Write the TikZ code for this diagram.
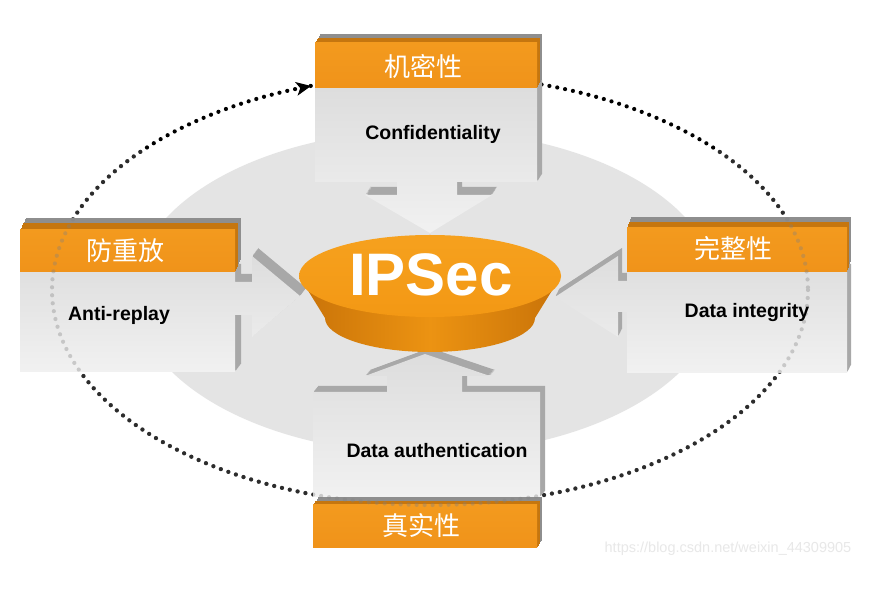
\documentclass[tikz,border=0pt]{standalone}
\usepackage{fontspec}
\setmainfont{Liberation Sans}
\newfontfamily\cjk{Noto Sans CJK SC}
\usetikzlibrary{calc}
\definecolor{bgell}{HTML}{E4E4E4}
\definecolor{orA}{HTML}{F39A1E}
\definecolor{orC}{HTML}{F8B352}
\definecolor{orB}{HTML}{F0931A}
\definecolor{orSide}{HTML}{C5760F}
\definecolor{extr}{HTML}{A8A8A8}
\definecolor{extrG}{HTML}{8E8E8E}
\definecolor{bodyT}{HTML}{DDDDDD}
\definecolor{bodyB}{HTML}{F1F1F1}
\definecolor{ipTop}{HTML}{F6A11E}
\definecolor{ipTopB}{HTML}{F39814}
\definecolor{ipSideM}{HTML}{EC9312}
\definecolor{ipSideE}{HTML}{C87208}
\tikzset{
  lbl/.style={font=\bfseries\fontsize{19.5}{22}\selectfont, text=black, anchor=base},
  hdr/.style={font=\cjk\fontsize{26}{30}\selectfont, text=white},
  dotline/.style={line width=4.2pt, dash pattern=on 0pt off 8pt, line cap=round},
}
\newcommand{\extr}[5]{\foreach \t in {#5}{\fill[#4,shift={({#2*\t},{#3*\t})}] #1;}}
\newcommand{\tdbox}[6]{%
  \extr{#1}{#3}{#4}{extr}{1,0.9,...,0.1}
  \shade[top color=bodyT,bottom color=bodyB] #1;
  \extr{#2}{#5}{#6}{extrG}{1,0.9,...,0.6}
  \extr{#2}{#5}{#6}{orSide}{0.55,0.5,...,0.05}
  \shade[top color=orA, middle color=orC, bottom color=orB] #2;
}
\begin{document}
\begin{tikzpicture}[x=1pt,y=-1pt]
\useasboundingbox (0,0) rectangle (871,593);
\fill[white] (0,0) rectangle (871,593);
% background ellipse
\fill[bgell] (426,292) ellipse [x radius=292, y radius=162];
% dotted cycle
\draw[dotline] (430,290) ellipse [x radius=378, y radius=215];
% top box
\tdbox{(315,88) -- (537,88) -- (537,182) -- (457,182) -- (457,195) -- (492,195) -- (430,233) -- (365,195) -- (397,195) -- (397,182) -- (315,182) -- cycle}
      {(315,43) rectangle (537,88)}{5}{-8}{5}{-9}
% left box
\tdbox{(20,272) -- (235,272) -- (235,282) -- (252,282) -- (252,256) -- (300,296) -- (252,337) -- (252,315) -- (235,315) -- (235,372) -- (20,372) -- cycle}
      {(20,230) rectangle (235,272)}{6}{-8}{6}{-12}
% right box
\tdbox{(627,272) -- (847,272) -- (847,373) -- (627,373) -- (627,312) -- (618,312) -- (618,337) -- (555,297) -- (618,256) -- (618,281) -- (627,281) -- cycle}
      {(627,228) rectangle (847,272)}{4}{-8}{4}{-11}
% bottom box
\tdbox{(313,392) -- (387,392) -- (387,376) -- (365,376) -- (425,354) -- (490,376) -- (462,376) -- (462,392) -- (540,392) -- (540,497) -- (313,497) -- cycle}
      {(313,505) rectangle (537,548)}{5}{-6}{5}{-8}
% faint dots seen through the boxes
\begin{scope}
  \clip (0,150) rectangle (871,593);
  \draw[dotline, draw=gray, opacity=0.35] (430,290) ellipse [x radius=378, y radius=215];
\end{scope}
% arrow head of the cycle
\coordinate (tipc) at (311,86);
\fill[shift={(tipc)}, rotate=10.8] (0,0) -- (-15,-7) -- (-11,0) -- (-15,7) -- cycle;
% IPSec disc
\shade[left color=ipSideE, right color=ipSideE, middle color=ipSideM]
  (299,276) -- (325,318) arc[start angle=180, end angle=0, x radius=105, y radius=34] -- (561,276) -- cycle;
\shade[top color=ipTop, bottom color=ipTopB] (430,276) ellipse [x radius=131, y radius=41];
\node[font=\bfseries\fontsize{60}{60}\selectfont, text=white, anchor=base] (ipsec) at (431,296) {IPSec};
% texts
\node[hdr] (h1) at (423,66) {机密性};
\node[lbl] (t1) at (433,140) {Confidentiality};
\node[hdr] (h2) at (125,251) {防重放};
\node[lbl] (t2) at (119,321) {Anti-replay};
\node[hdr] (h3) at (733,249) {完整性};
\node[lbl] (t3) at (747,318) {Data integrity};
\node[hdr] (h4) at (421,526) {真实性};
\node[lbl] (t4) at (437,458) {Data authentication};
\node[font=\fontsize{14.5}{16}\selectfont, text=gray!18] (wm) at (728,549) {https://blog.csdn.net/weixin\_44309905};
\end{tikzpicture}
\end{document}
